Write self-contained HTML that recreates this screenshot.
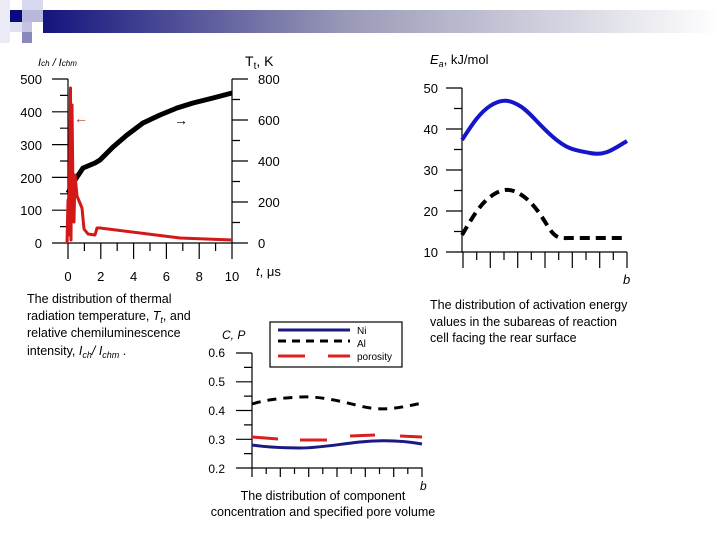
<!DOCTYPE html>
<html><head><meta charset="utf-8"><style>
body{margin:0;width:720px;height:540px;background:#fff;overflow:hidden;font-family:"Liberation Sans",sans-serif}
</style></head><body>
<svg width="720" height="540" viewBox="0 0 720 540" xmlns="http://www.w3.org/2000/svg" font-family="Liberation Sans, sans-serif">
<defs><linearGradient id="g" x1="0" x2="1"><stop offset="0" stop-color="#14147e"/><stop offset="0.45" stop-color="#9a9ab8"/><stop offset="1" stop-color="#ffffff"/></linearGradient></defs>
<rect x="43" y="10" width="677" height="23" fill="url(#g)"/>
<rect x="0" y="0" width="10" height="43" fill="#ececf6"/>
<rect x="22" y="0" width="21" height="10" fill="#d8d8ee"/>
<rect x="10" y="10" width="12" height="12" fill="#0a0a80"/>
<rect x="22" y="10" width="21" height="12" fill="#b8b8dc"/>
<rect x="10" y="22" width="12" height="10" fill="#e0e0f0"/>
<rect x="22" y="22" width="10" height="10" fill="#c4c4e2"/>
<rect x="22" y="32" width="10" height="11" fill="#8888bc"/>

<!-- Chart 1 -->
<g stroke="#000" stroke-width="1.2" fill="none">
<path d="M68 79V243H232V79"/>
<path d="M52 79H68M60 95.4H68M52 111.8H68M60 128.2H68M52 144.6H68M60 161H68M52 177.4H68M60 193.8H68M52 210.2H68M60 226.6H68M52 243H68"/>
<path d="M232 79H248M232 99.5H240M232 120H248M232 140.5H240M232 161H248M232 181.5H240M232 202H248M232 222.5H240M232 243H248"/>
<path d="M68 243V259M84.4 243V251M100.8 243V259M117.2 243V251M133.6 243V259M150 243V251M166.4 243V259M182.8 243V251M199.2 243V259M215.6 243V251M232 243V259"/>
</g>
<g font-size="13" fill="#000" text-anchor="end">
<text x="42" y="84">500</text><text x="42" y="117">400</text><text x="42" y="150">300</text><text x="42" y="183">200</text><text x="42" y="215">100</text><text x="42" y="248">0</text>
</g>
<g font-size="13" fill="#000">
<text x="258" y="84">800</text><text x="258" y="125">600</text><text x="258" y="166">400</text><text x="258" y="207">200</text><text x="258" y="248">0</text>
</g>
<g font-size="13" fill="#000" text-anchor="middle">
<text x="68" y="281">0</text><text x="100.8" y="281">2</text><text x="133.6" y="281">4</text><text x="166.4" y="281">6</text><text x="199.2" y="281">8</text><text x="232" y="281">10</text>
</g>
<text x="256" y="276" font-size="13"><tspan font-style="italic">t</tspan>, μs</text>
<text x="38" y="66" font-size="11" font-style="italic">I<tspan font-size="8">ch</tspan> / I<tspan font-size="8">chm</tspan></text>
<text x="245" y="66" font-size="14">T<tspan font-size="10" dy="3">t</tspan><tspan dy="-3">, K</tspan></text>
<path d="M68 193L75 180L83 168L95 163L100 160L113 147L127 135L143 123L160 115L177 108L193 103L213 98L232 93" stroke="#000" stroke-width="5" fill="none" stroke-linejoin="round"/>
<path d="M67 243L68 200L69 235L70.5 88L71 240L72 105L73 193L74 222L75 175L77 196L82 208L84 229L88 234L95 235L97 228L100 228L180 238L232 240" stroke="#d41818" stroke-width="3" fill="none" stroke-linejoin="round"/>
<text x="74" y="123" font-size="14" fill="#c03030">←</text>
<text x="174" y="125" font-size="14" fill="#000">→</text>
<g font-size="12.5" fill="#000">
<text x="27" y="303">The distribution of thermal</text>
<text x="27" y="320">radiation temperature, <tspan font-style="italic">T</tspan><tspan font-size="9" font-style="italic" dy="3">t</tspan><tspan dy="-3">, and</tspan></text>
<text x="27" y="337">relative chemiluminescence</text>
<text x="27" y="355">intensity, <tspan font-style="italic">I<tspan font-size="9" dy="3">ch</tspan><tspan dy="-3">/ I</tspan><tspan font-size="9" dy="3">chm</tspan></tspan><tspan dy="-3"> .</tspan></text>
</g>

<!-- Chart 2 -->
<g stroke="#000" stroke-width="1.2" fill="none">
<path d="M462 88V252H627"/>
<path d="M446 88H462M454 108.5H462M446 129H462M454 149.5H462M446 170H462M454 190.5H462M446 211H462M454 231.5H462M446 252H462"/>
<path d="M463 252V268M476.7 252V260M490.3 252V268M504 252V260M517.7 252V268M531.3 252V260M545 252V268M558.7 252V260M572.3 252V268M586 252V260M599.7 252V268M613.3 252V260M627 252V268"/>
</g>
<g font-size="13" fill="#000" text-anchor="end">
<text x="438" y="93">50</text><text x="438" y="134">40</text><text x="438" y="175">30</text><text x="438" y="216">20</text><text x="438" y="257">10</text>
</g>
<text x="430" y="64" font-size="13"><tspan font-style="italic">E<tspan font-size="9" dy="3">a</tspan></tspan><tspan dy="-3">, kJ/mol</tspan></text>
<text x="623" y="284" font-size="13" font-style="italic">b</text>
<path d="M462 140C470 128 478 114 490 106S510 100 520 106S538 124 553 137S575 150 590 153S612 150 627 141" stroke="#1515cc" stroke-width="4" fill="none"/>
<path d="M462 235C470 222 478 206 490 197S510 188 520 194S538 210 547 225S560 238 572 238L627 238" stroke="#000" stroke-width="4" fill="none" stroke-dasharray="10,6"/>
<g font-size="12.5" fill="#000">
<text x="430" y="309">The distribution of activation energy</text>
<text x="430" y="326">values in the subareas of reaction</text>
<text x="430" y="342">cell facing the rear surface</text>
</g>

<!-- Chart 3 -->
<g stroke="#000" stroke-width="1.2" fill="none">
<path d="M252 353V468H422V477"/>
<path d="M236 353H252M244 367.4H252M236 381.8H252M244 396.1H252M236 410.5H252M244 424.9H252M236 439.3H252M244 453.6H252M236 468H252"/>
<path d="M252 468V477M266.2 468V474M280.3 468V477M294.5 468V474M308.7 468V477M322.8 468V474M337 468V477M351.2 468V474M365.3 468V477M379.5 468V474M393.7 468V477M407.8 468V474"/>
</g>
<g font-size="12" fill="#000" text-anchor="end">
<text x="225" y="357">0.6</text><text x="225" y="386">0.5</text><text x="225" y="415">0.4</text><text x="225" y="444">0.3</text><text x="225" y="473">0.2</text>
</g>
<text x="222" y="339" font-size="12" font-style="italic">C, P</text>
<text x="420" y="490" font-size="12" font-style="italic">b</text>
<rect x="270" y="322" width="132" height="45" fill="#fff" stroke="#000" stroke-width="1.2"/>
<path d="M278 330H350" stroke="#1a1a80" stroke-width="3"/>
<path d="M278 341H350" stroke="#000" stroke-width="3" stroke-dasharray="8,6"/>
<path d="M278 356H305M328 356H350" stroke="#e02020" stroke-width="3"/>
<g font-size="10" fill="#000"><text x="357" y="334">Ni</text><text x="357" y="347">Al</text><text x="357" y="360">porosity</text></g>
<path d="M252 404C265 400 280 398 300 397S340 401 360 406S395 409 422 403" stroke="#000" stroke-width="3" fill="none" stroke-dasharray="9,7"/>
<path d="M252 437L278 439M300 440L327 440M350 436L375 435M400 436L422 437" stroke="#d82020" stroke-width="3" fill="none"/>
<path d="M252 445C265 447 280 448 300 448S340 444 360 442S400 440 422 444" stroke="#1a1a80" stroke-width="3" fill="none"/>
<g font-size="12.5" fill="#000" text-anchor="middle">
<text x="323" y="500">The distribution of component</text>
<text x="323" y="516">concentration and specified pore volume</text>
</g>
</svg>
</body></html>
